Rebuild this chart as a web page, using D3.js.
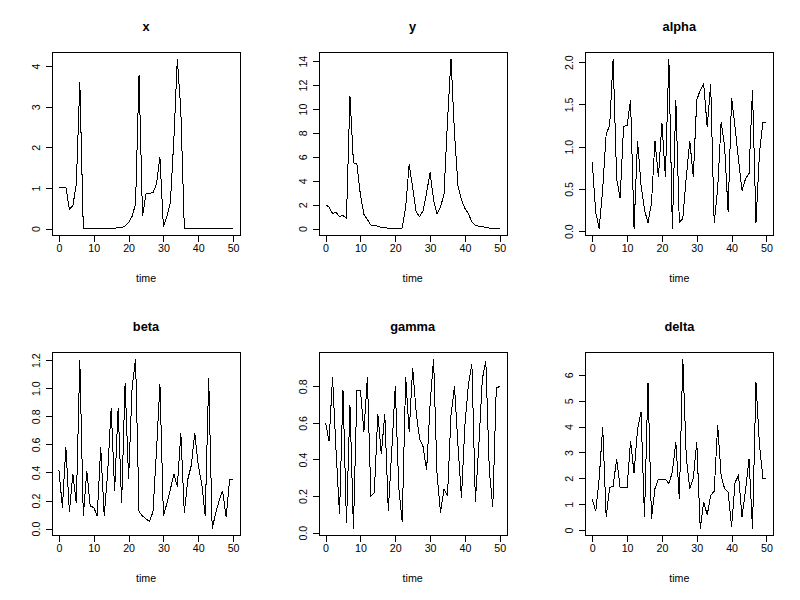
<!DOCTYPE html>
<html>
<head>
<meta charset="utf-8">
<script src="https://cdn.jsdelivr.net/npm/d3@7/dist/d3.min.js"></script>
<style>
  body { margin: 0; background: #fff; }
  text { font-family: "Liberation Sans", Arial, sans-serif; fill: #000; }
</style>
</head>
<body>
<svg id="chart" width="800" height="600"></svg>
<script>
// ---------- data ----------
const time = [0,1,2,3,4,5,6,7,8,9,10,11,12,13,14,15,16,17,18,19,20,21,22,23,24,25,
  26,27,28,29,30,31,32,33,34,35,36,37,38,39,40,41,42,43,44,45,46,47,48,49,50];

const xSeries = [1.0,1.0,1.02,0.48,0.56,1.1,3.6,0,0,0,0,0,0,0,0,0,0.01,0.02,0.03,0.06,
  0.15,0.3,0.6,3.78,0.3,0.86,0.87,0.88,1.1,1.75,0.05,0.3,0.65,2.2,4.18,2.9,0,
  0,0,0,0,0,0,0,0,0,0,0,0,0,0];

const ySeries = [2.0,1.8,1.25,1.35,1.0,1.1,0.85,11.1,5.5,5.4,2.8,1.2,0.75,0.3,0.28,0.2,
  0.1,0.08,0.03,0,0,0,0.05,1.8,5.4,3.4,1.4,1.0,1.5,3.0,4.7,2.4,1.2,1.8,2.9,9.0,14.2,
  8.0,3.6,2.4,1.7,1.25,0.55,0.25,0.2,0.15,0.1,0.05,0.02,0,0];

const alphaSeries = [0.82,0.22,0.03,0.5,1.15,1.25,2.04,0.62,0.39,1.24,1.25,1.55,0.03,
  1.07,0.55,0.25,0.1,0.33,1.07,0.64,1.28,0.64,2.04,0.03,1.55,0.1,0.15,0.64,1.07,0.64,
  1.55,1.67,1.74,1.23,1.74,0.1,0.5,1.29,1.0,0.23,1.58,1.23,0.84,0.48,0.62,0.68,1.67,
  0.1,0.92,1.29,1.29];

const betaSeries = [0.42,0.15,0.58,0.12,0.39,0.18,1.2,0.09,0.41,0.16,0.15,0.09,0.58,
  0.09,0.4,0.86,0.27,0.86,0.18,1.04,0.35,1.0,1.21,0.12,0.09,0.07,0.05,0.12,0.55,1.03,
  0.09,0.18,0.28,0.39,0.3,0.68,0.11,0.35,0.45,0.68,0.45,0.32,0.09,1.07,0.0,0.11,0.2,
  0.27,0.08,0.35,0.35];

const gammaSeries = [0.6,0.5,0.85,0.45,0.1,0.78,0.05,0.7,0.022,0.78,0.78,0.55,0.85,0.2,
  0.22,0.65,0.43,0.65,0.12,0.45,0.8,0.25,0.06,0.85,0.55,0.9,0.66,0.51,0.47,0.34,0.7,
  0.951,0.32,0.11,0.24,0.2,0.64,0.8,0.48,0.19,0.59,0.81,0.92,0.17,0.48,0.84,0.94,0.34,
  0.14,0.79,0.8];

const deltaSeries = [1.2,0.73,2.0,4.0,0.51,1.65,1.7,2.75,1.65,1.65,1.65,3.45,2.2,3.9,
  4.56,0.5,5.7,0.45,1.6,1.97,1.97,1.97,1.8,2.25,3.4,1.2,6.62,2.8,1.6,2.0,3.4,0.06,1.1,
  0.58,1.35,1.5,4.05,2.1,1.6,1.48,0.13,1.84,2.12,0.51,1.55,2.75,0.06,5.72,3.3,2.0,2.0];

const titles = ["x","y","alpha","beta","gamma","delta"];
const xAxisLabel = "time";
const timeTicks = [0,10,20,30,40,50];
const timeTickLabels = ["0","10","20","30","40","50"];

const xTicks = [0,1,2,3,4];            const xTickLabels = ["0","1","2","3","4"];
const yTicks = [0,2,4,6,8,10,12,14];   const yTickLabels = ["0","2","4","6","8","10","12","14"];
const alphaTicks = [0,0.5,1,1.5,2];    const alphaTickLabels = ["0.0","0.5","1.0","1.5","2.0"];
const betaTicks = [0,0.2,0.4,0.6,0.8,1.0,1.2];
const betaTickLabels = ["0.0","0.2","0.4","0.6","0.8","1.0","1.2"];
const gammaTicks = [0,0.2,0.4,0.6,0.8]; const gammaTickLabels = ["0.0","0.2","0.4","0.6","0.8"];
const deltaTicks = [0,1,2,3,4,5,6];    const deltaTickLabels = ["0","1","2","3","4","5","6"];

const seriesList = [xSeries, ySeries, alphaSeries, betaSeries, gammaSeries, deltaSeries];
const tickList = [xTicks, yTicks, alphaTicks, betaTicks, gammaTicks, deltaTicks];
const tickLabelList = [xTickLabels, yTickLabels, alphaTickLabels, betaTickLabels, gammaTickLabels, deltaTickLabels];

// ---------- layout (R base graphics, mfrow = c(2,3)) ----------
const W = 800, H = 600, nCol = 3, nRow = 2;
const cellW = W / nCol, cellH = H / nRow;
const lineH = 12.67;                     // one margin line in px
const mar = {bottom: 5.1 * lineH, left: 4.1 * lineH, top: 4.1 * lineH, right: 2.1 * lineH};
const tickLen = 6.3;
const fsAxis = 10.67, fsMain = 12.8;

const svg = d3.select("#chart");

function rExtend([a, b]) { const r = b - a; return [a - 0.04 * r, b + 0.04 * r]; }

seriesList.forEach((vals, i) => {
  const col = i % nCol, row = Math.floor(i / nCol);
  const x0 = col * cellW + mar.left, x1 = (col + 1) * cellW - mar.right;
  const y0 = row * cellH + mar.top,  y1 = (row + 1) * cellH - mar.bottom;

  const xs = d3.scaleLinear().domain(rExtend(d3.extent(time))).range([x0, x1]);
  const ys = d3.scaleLinear().domain(rExtend(d3.extent(vals))).range([y1, y0]);

  const g = svg.append("g");

  // data line
  const line = d3.line().x((d, k) => xs(time[k])).y(d => ys(d));
  g.append("path").datum(vals).attr("d", line)
    .attr("fill", "none").attr("stroke", "#000").attr("stroke-width", 1)
    .attr("shape-rendering", "crispEdges");

  // box
  g.append("rect").attr("x", Math.round(x0) + 0.5).attr("y", Math.round(y0) + 0.5)
    .attr("width", Math.round(x1) - Math.round(x0)).attr("height", Math.round(y1) - Math.round(y0))
    .attr("fill", "none").attr("stroke", "#000").attr("stroke-width", 1)
    .attr("shape-rendering", "crispEdges");

  // bottom axis
  const labs = timeTickLabels;
  const ax = d3.axisBottom(xs).tickValues(timeTicks).tickFormat((d, k) => labs[k])
    .tickSize(tickLen).tickSizeOuter(0);
  const gx = g.append("g").attr("transform", `translate(0,${Math.round(y1) + 0.5})`).call(ax);
  gx.select(".domain").attr("d", `M${xs(timeTicks[0])},0H${xs(timeTicks[timeTicks.length-1])}`)
    .attr("shape-rendering", "crispEdges");
  gx.selectAll(".tick line").attr("shape-rendering", "crispEdges");
  gx.selectAll(".tick text").attr("y", 16).attr("dy", 0)
    .style("font-size", fsAxis + "px").style("font-family", '"Liberation Sans", Arial, sans-serif');

  // left axis
  const yl = tickLabelList[i];
  const ay = d3.axisLeft(ys).tickValues(tickList[i]).tickFormat((d, k) => yl[k])
    .tickSize(tickLen).tickSizeOuter(0);
  const gy = g.append("g").attr("transform", `translate(${Math.round(x0) + 0.5},0)`).call(ay);
  const tv = tickList[i];
  gy.select(".domain").attr("d", `M0,${ys(tv[0])}V${ys(tv[tv.length-1])}`)
    .attr("shape-rendering", "crispEdges");
  gy.selectAll(".tick line").attr("shape-rendering", "crispEdges");
  gy.selectAll(".tick text").attr("x", null).attr("dy", 0)
    .attr("text-anchor", "middle")
    .attr("transform", `translate(${-lineH},0) rotate(-90)`)
    .style("font-size", fsAxis + "px").style("font-family", '"Liberation Sans", Arial, sans-serif');

  // x label
  g.append("text").attr("x", (x0 + x1) / 2).attr("y", y1 + 47)
    .attr("text-anchor", "middle").style("font-size", fsAxis + "px").text(xAxisLabel);

  // title
  g.append("text").attr("x", (x0 + x1) / 2).attr("y", y0 - 20.5)
    .attr("text-anchor", "middle").style("font-size", fsMain + "px")
    .style("font-weight", "bold").text(titles[i]);
});
</script>
</body>
</html>
